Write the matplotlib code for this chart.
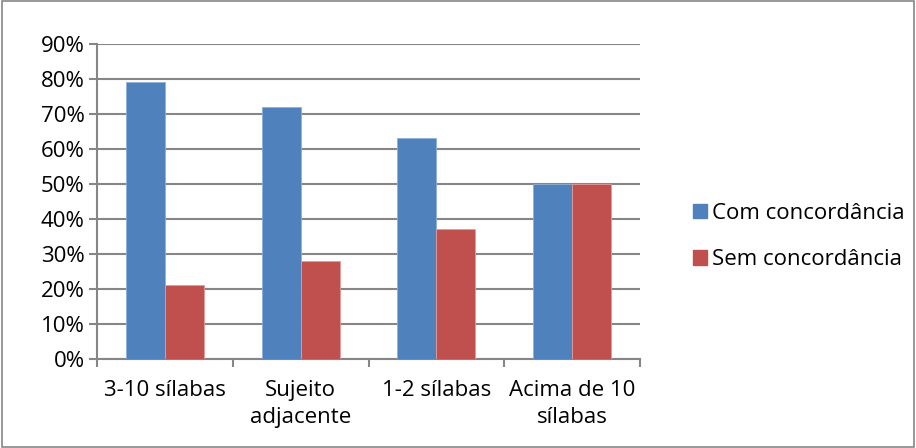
import numpy as np
import matplotlib.pyplot as plt
from matplotlib.patches import Rectangle

# Share of agreement by subject distance
categories = ["3-10 sílabas", "Sujeito\nadjacente", "1-2 sílabas", "Acima de 10\nsílabas"]
com_concordancia = [79, 72, 63, 50]
sem_concordancia = [21, 28, 37, 50]
series_names = ["Com concordância", "Sem concordância"]
yticks = list(range(0, 91, 10))

blue = "#4F81BD"
red = "#C0504D"
grid_gray = "#868686"
fs = 16

plt.rcParams["font.family"] = ["Open Sans", "DejaVu Sans"]

fig = plt.figure(figsize=(9.16, 4.48), dpi=100)
ax = fig.add_axes([0.1059, 0.1987, 0.5928, 0.7031])

x = np.arange(len(categories))
w = 0.287
ax.bar(x - w / 2, com_concordancia, w, color=blue, edgecolor="#8EB0DA", linewidth=0.6, zorder=3)
ax.bar(x + w / 2, sem_concordancia, w, color=red, edgecolor="#E39A98", linewidth=0.6, zorder=3)

ax.set_xlim(-0.5, len(categories) - 0.5)
ax.set_ylim(0, 90)
ax.set_yticks(yticks)
ax.set_yticklabels([f"{v}%" for v in yticks])
ax.yaxis.grid(True, color=grid_gray, linewidth=1.5, zorder=0)
ax.set_axisbelow(True)

ax.set_xticks(x)
ax.set_xticklabels(categories, linespacing=1.4)
ax.set_xticks(np.arange(-0.5, len(categories)), minor=True)
ax.tick_params(axis="x", which="major", length=0, pad=15, labelsize=fs)
ax.tick_params(axis="x", which="minor", length=6, width=1.5, color=grid_gray)
ax.tick_params(axis="y", length=6, width=1.5, color=grid_gray, labelsize=fs, pad=3)

for side in ["top", "right"]:
    ax.spines[side].set_visible(False)
for side in ["left", "bottom"]:
    ax.spines[side].set_color(grid_gray)
    ax.spines[side].set_linewidth(1.5)

handles = [Rectangle((0, 0), 1, 1, color=c) for c in (blue, red)]
fig.legend(handles, series_names, loc="center left", bbox_to_anchor=(0.735, 0.472),
           frameon=False, fontsize=fs, handlelength=0.6, handleheight=0.6,
           handletextpad=0.25, labelspacing=1.15)

# outer chart border
fig.patches.append(Rectangle((0.002, 0.003), 0.996, 0.994, transform=fig.transFigure,
                             fill=False, edgecolor=grid_gray, linewidth=1.2))

fig.savefig("out.png", dpi=100)
